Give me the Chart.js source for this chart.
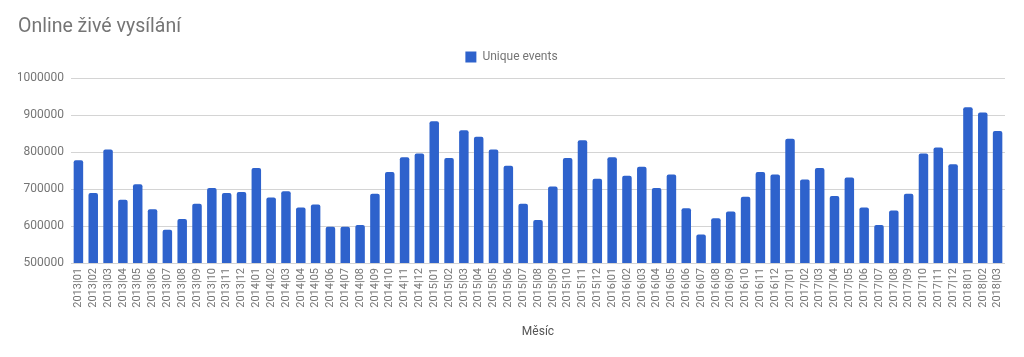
<!DOCTYPE html>
<html>
<head>
<meta charset="utf-8">
<script src="https://cdn.jsdelivr.net/npm/chart.js@4/dist/chart.umd.min.js"></script>
<style>
  html, body { margin: 0; padding: 0; background: #fff; }
  #wrap { width: 1024px; height: 357px; position: relative; }
</style>
</head>
<body>
<div id="wrap"><canvas id="c"></canvas></div>
<script>
const chartTitle = "Online živé vysílání";
const seriesName = "Unique events";
const xAxisTitle = "Měsíc";
const months = [
  "2013|01","2013|02","2013|03","2013|04","2013|05","2013|06","2013|07","2013|08","2013|09","2013|10","2013|11","2013|12",
  "2014|01","2014|02","2014|03","2014|04","2014|05","2014|06","2014|07","2014|08","2014|09","2014|10","2014|11","2014|12",
  "2015|01","2015|02","2015|03","2015|04","2015|05","2015|06","2015|07","2015|08","2015|09","2015|10","2015|11","2015|12",
  "2016|01","2016|02","2016|03","2016|04","2016|05","2016|06","2016|07","2016|08","2016|09","2016|10","2016|11","2016|12",
  "2017|01","2017|02","2017|03","2017|04","2017|05","2017|06","2017|07","2017|08","2017|09","2017|10","2017|11","2017|12",
  "2018|01","2018|02","2018|03"
];
const uniqueEvents = [
  778000, 689000, 807000, 671000, 713000, 645000, 590000, 619000, 660000, 703000, 689000, 692000,
  757000, 677000, 694000, 650000, 658000, 598000, 598000, 603000, 687000, 746000, 786000, 796000,
  883000, 784000, 859000, 841000, 807000, 763000, 660000, 616000, 707000, 784000, 832000, 728000,
  786000, 736000, 760000, 703000, 739000, 648000, 577000, 621000, 639000, 679000, 746000, 739000,
  836000, 726000, 757000, 681000, 731000, 650000, 603000, 642000, 687000, 796000, 812000, 767000,
  921000, 907000, 857000
];
const yTicks = [500000, 600000, 700000, 800000, 900000, 1000000];

const BAR = '#2e62cc';
const GREY = '#757575';
const FONT = 'Roboto, "Noto Sans", Arial, sans-serif';

function patchHeight(box, h) {
  if (!box || box._patched) return;
  const orig = box.update.bind(box);
  box.update = function (...args) { const r = orig(...args); this.height = h; return r; };
  box._patched = true;
}

const fixBoxes = {
  id: 'fixBoxes',
  beforeLayout(chart) {
    patchHeight(chart.titleBlock, 42);
    patchHeight(chart.legend, 36);
  }
};

new Chart(document.getElementById('c'), {
  type: 'bar',
  data: {
    labels: months,
    datasets: [{
      label: seriesName,
      data: uniqueEvents,
      backgroundColor: BAR,
      borderWidth: 0,
      borderRadius: { topLeft: 2, topRight: 2 },
      borderSkipped: 'bottom',
      barPercentage: 0.64,
      categoryPercentage: 1.0
    }]
  },
  options: {
    responsive: true,
    maintainAspectRatio: false,
    animation: false,
    layout: { padding: { left: 18, right: 19, top: 0, bottom: 0 } },
    plugins: {
      title: {
        display: true,
        text: chartTitle,
        align: 'start',
        color: GREY,
        font: { family: FONT, size: 19.5, weight: 'normal' },
        padding: { top: 15, bottom: 0 }
      },
      legend: {
        display: true,
        position: 'top',
        align: 'center',
        labels: {
          boxWidth: 11,
          boxHeight: 11,
          padding: 9,
          color: GREY,
          font: { family: FONT, size: 12 }
        }
      },
      tooltip: { enabled: false }
    },
    scales: {
      x: {
        grid: { display: false, drawTicks: false },
        border: { display: false },
        ticks: {
          autoSkip: false,
          maxRotation: 90,
          minRotation: 90,
          padding: 5,
          color: GREY,
          font: { family: FONT, size: 11 }
        },
        title: {
          display: true,
          text: xAxisTitle,
          color: '#555',
          font: { family: FONT, size: 12 },
          padding: { top: 0, bottom: 18 }
        },
        afterFit(scale) { scale.height = 94; }
      },
      y: {
        min: 500000,
        max: 1000000,
        afterBuildTicks(scale) { scale.ticks = yTicks.map(v => ({ value: v })); },
        grid: { color: '#d4d4d4', drawTicks: false, lineWidth: 1 },
        border: { display: false },
        ticks: {
          padding: 7,
          color: GREY,
          font: { family: FONT, size: 12 },
          callback: (v) => String(v)
        },
        afterFit(scale) { scale.width = 53; }
      }
    }
  },
  plugins: [fixBoxes]
});
</script>
</body>
</html>
